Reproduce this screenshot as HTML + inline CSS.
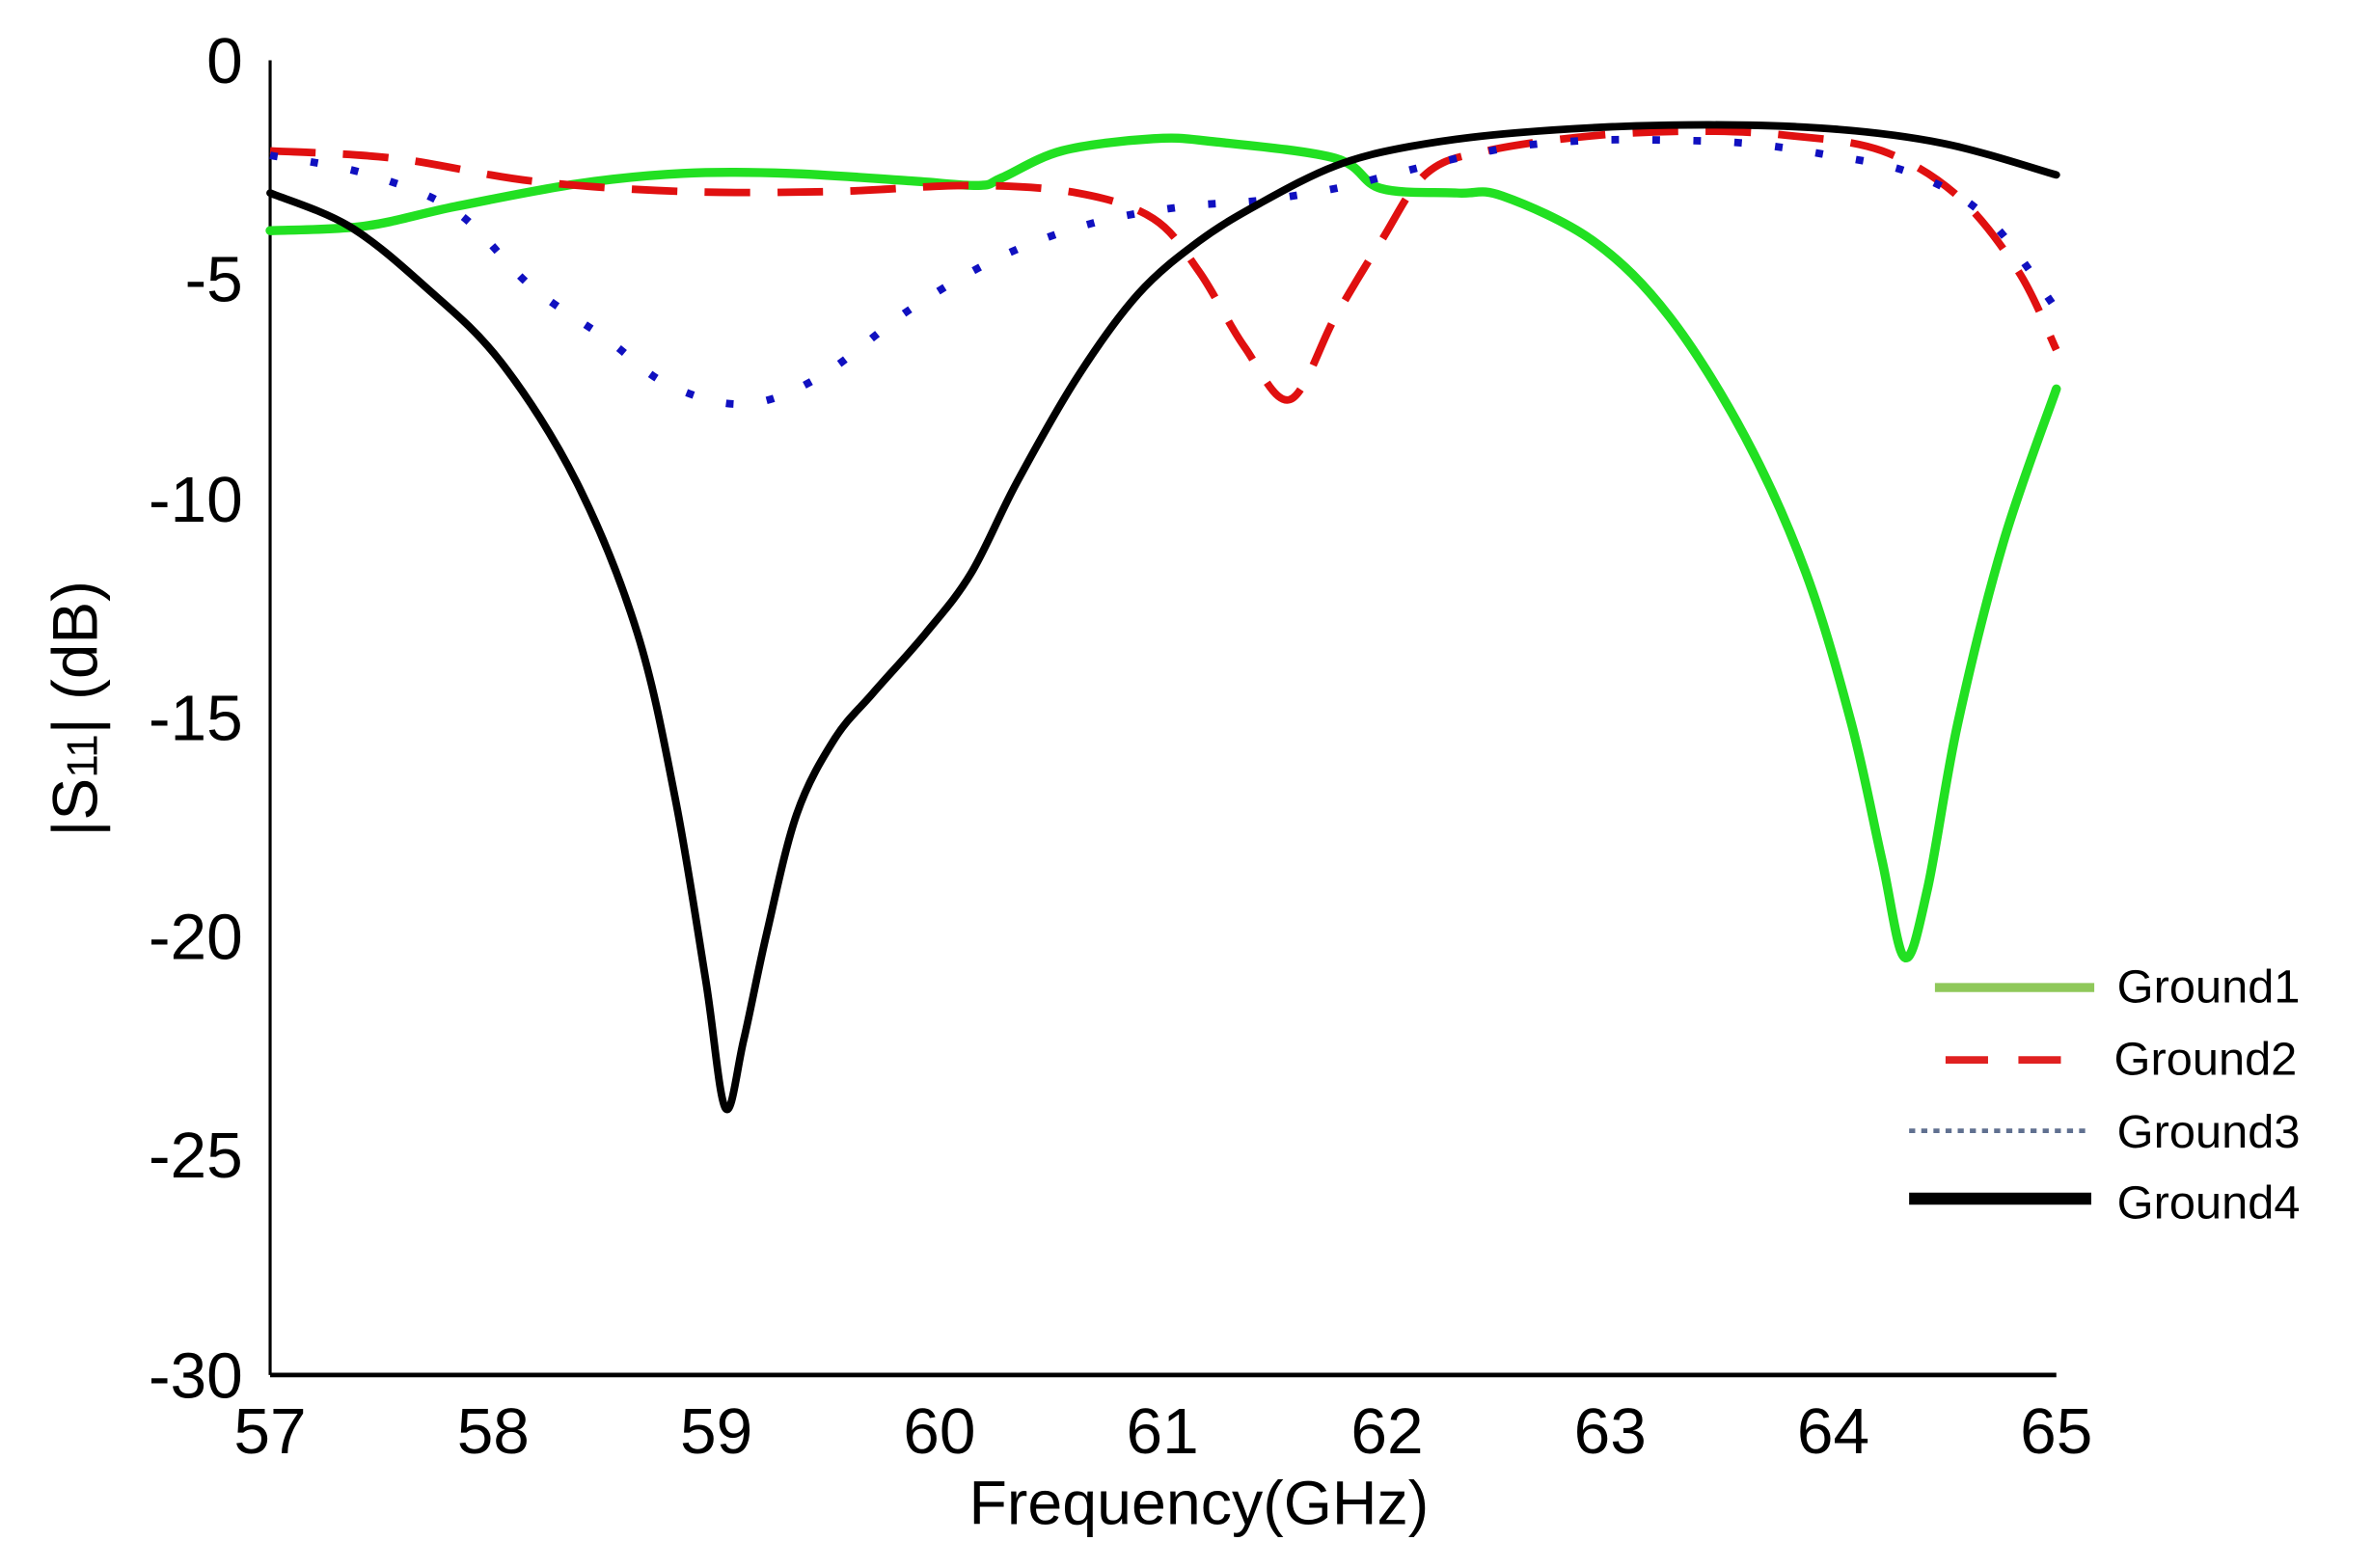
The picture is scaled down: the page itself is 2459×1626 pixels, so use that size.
<!DOCTYPE html>
<html><head><meta charset="utf-8"><style>
html,body{margin:0;padding:0;background:#fff;}
svg{display:block;}
</style></head><body>
<svg id="s" width="2459" height="1626" viewBox="0 0 1563 1040" preserveAspectRatio="none" xmlns="http://www.w3.org/2000/svg">
<rect width="1563" height="1040" fill="#fff"/>
<g font-family="Liberation Sans, sans-serif" font-size="43" fill="#000">
<g text-anchor="end">
<text x="160" y="55">0</text>
<text x="160" y="200">-5</text>
<text x="160" y="346">-10</text>
<text x="160" y="491">-15</text>
<text x="160" y="636">-20</text>
<text x="160" y="781">-25</text>
<text x="160" y="927">-30</text>
</g>
<g text-anchor="middle">
<text x="178" y="964">57</text>
<text x="325" y="964">58</text>
<text x="472" y="964">59</text>
<text x="619" y="964">60</text>
<text x="766" y="964">61</text>
<text x="914" y="964">62</text>
<text x="1061" y="964">63</text>
<text x="1208" y="964">64</text>
<text x="1355" y="964">65</text>
<text x="790" y="1011" font-size="41">Frequency(GHz)</text>
</g>
<text transform="translate(64,470) rotate(-90)" text-anchor="middle" font-size="42">|S<tspan font-size="28">11</tspan>| (dB)</text>
</g>
<line x1="178" y1="40" x2="178" y2="912" stroke="#000" stroke-width="2"/>
<line x1="178" y1="912" x2="1355" y2="912" stroke="#000" stroke-width="3"/>
<g fill="none" stroke-linejoin="round" stroke-linecap="round">
<polyline class="c" stroke="#22e022" stroke-width="6" points="178,153 240,150 300,137 380,122 450,115 520,115 600,120 645,123 660,118 700,100 760,92 800,94 880,105 910,125 960,128 990,130 1050,160 1100,210 1150,290 1190,380 1220,480 1240,570 1255,635 1270,590 1290,480 1320,360 1355,258"/>
<polyline class="c" stroke="#e01010" stroke-width="5" stroke-linecap="butt" stroke-dasharray="30,18" points="178,100 260,105 350,120 450,127 550,127 640,123 710,128 760,145 790,180 820,230 850,265 880,210 910,160 940,115 980,100 1050,90 1120,87 1180,90 1240,100 1290,130 1330,180 1355,232"/>
<polyline class="c" stroke="#1010c0" stroke-width="5" stroke-linecap="butt" stroke-dasharray="5,22" points="178,103 240,115 300,140 350,190 400,225 440,255 490,268 540,250 600,205 660,170 720,148 780,137 830,133 880,125 920,115 960,105 1000,97 1050,93 1100,93 1150,95 1200,102 1260,115 1310,145 1355,205"/>
<polyline class="c" stroke="#000" stroke-width="5" points="178,128 230,150 280,190 330,240 380,320 420,420 445,530 465,650 478,735 490,690 505,620 525,540 550,490 575,460 610,420 640,380 670,320 710,250 750,195 790,160 830,135 880,110 930,97 1000,88 1100,83 1200,85 1280,95 1355,116"/>
</g>
<line x1="1275" y1="655" x2="1380" y2="655" stroke="#8fc85a" stroke-width="6"/>
<line x1="1282" y1="703" x2="1378" y2="703" stroke="#e02020" stroke-width="5" stroke-dasharray="28,20"/>
<line x1="1258" y1="750" x2="1378" y2="750" stroke="#607090" stroke-width="3" stroke-dasharray="4,4"/>
<line x1="1258" y1="795" x2="1378" y2="795" stroke="#000" stroke-width="8"/>
<g font-family="Liberation Sans, sans-serif" font-size="31" fill="#000">
<text x="1395" y="665">Ground1</text>
<text x="1393" y="713">Ground2</text>
<text x="1395" y="761">Ground3</text>
<text x="1395" y="808">Ground4</text>
</g>
</svg>
<script>
(function(){
var ns="http://www.w3.org/2000/svg";
var pl=document.querySelectorAll("polyline.c");
for(var i=0;i<pl.length;i++){
 var e=pl[i];
 var p=e.getAttribute("points").trim().split(/\s+/).map(function(s){return s.split(",").map(Number);});
 var d="M"+p[0][0]+","+p[0][1];
 for(var k=0;k<p.length-1;k++){
  var p0=p[k-1]||p[k],p1=p[k],p2=p[k+1],p3=p[k+2]||p2;
  var t=1/6;
  var c1x=p1[0]+(p2[0]-p0[0])*t,c1y=p1[1]+(p2[1]-p0[1])*t;
  var c2x=p2[0]-(p3[0]-p1[0])*t,c2y=p2[1]-(p3[1]-p1[1])*t;
  d+=" C"+c1x+","+c1y+" "+c2x+","+c2y+" "+p2[0]+","+p2[1];
 }
 var path=document.createElementNS(ns,"path");
 path.setAttribute("d",d);
 ["stroke","stroke-width","stroke-linecap","stroke-dasharray"].forEach(function(a){if(e.getAttribute(a))path.setAttribute(a,e.getAttribute(a));});
 e.parentNode.replaceChild(path,e);
}
})();
</script>
</body></html>
